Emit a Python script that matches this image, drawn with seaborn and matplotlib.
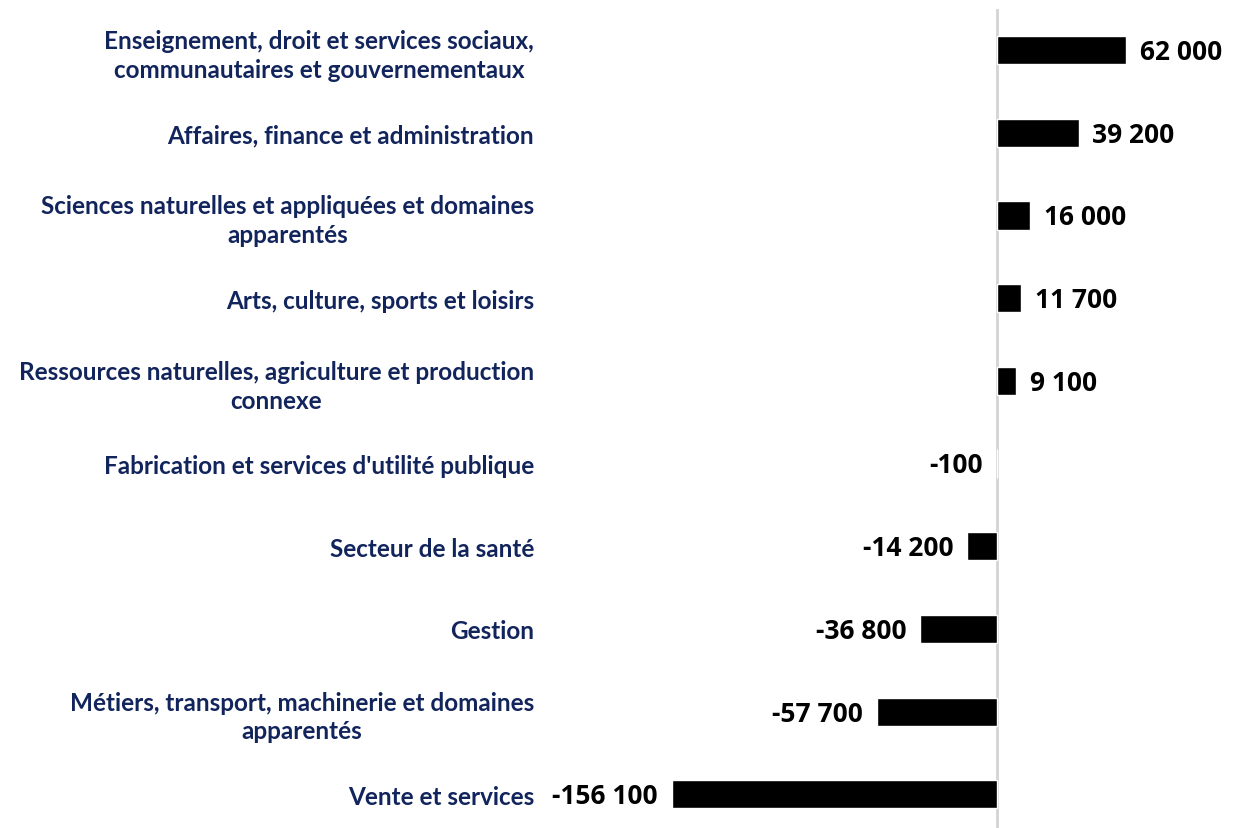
import matplotlib
matplotlib.use('Agg')
import matplotlib.pyplot as plt
import seaborn as sns

# data
categories = [
    "Enseignement, droit et services sociaux,\ncommunautaires et gouvernementaux",
    "Affaires, finance et administration",
    "Sciences naturelles et appliquées et domaines\napparentés",
    "Arts, culture, sports et loisirs",
    "Ressources naturelles, agriculture et production\nconnexe",
    "Fabrication et services d'utilité publique",
    "Secteur de la santé",
    "Gestion",
    "Métiers, transport, machinerie et domaines\napparentés",
    "Vente et services",
]
values = [62000, 39200, 16000, 11700, 9100, -100, -14200, -36800, -57700, -156100]

navy = '#12245C'

sns.set_style('white')
plt.rcParams['font.family'] = ['Lato', 'DejaVu Sans']

f = plt.figure(figsize=(12.37, 8.29), dpi=100)
ax = f.add_axes([0.4406, -0.0093, 0.5594, 0.9976])

sns.barplot(x=values, y=categories, orient='h', color='black',
            saturation=1, width=0.34, ax=ax)

ax.set_xlim(-217100, 115300)
ax.set_ylim(9.5, -0.5)
ax.axvline(0, color='#D4D4D4', lw=2, zorder=0)

# value labels
for i, v in enumerate(values):
    txt = f"{v:,}".replace(",", " ")
    dx = 10 if v >= 0 else -10
    ax.annotate(txt, (v, i), xytext=(dx, -1), textcoords='offset points',
                ha='left' if v >= 0 else 'right', va='center',
                fontsize=19, fontweight='bold',
                family='Open Sans', color='black')

# axes styling
ax.set_xticks([])
ax.set_xlabel('')
ax.set_ylabel('')
ax.tick_params(axis='y', length=0, pad=8)
for lbl in ax.get_yticklabels():
    lbl.set_fontsize(17.5)
    lbl.set_fontweight('bold')
    lbl.set_color(navy)
    lbl.set_multialignment('center')
    lbl.set_linespacing(1.3)
sns.despine(ax=ax, left=True, bottom=True)

f.savefig('out.png', dpi=100)
